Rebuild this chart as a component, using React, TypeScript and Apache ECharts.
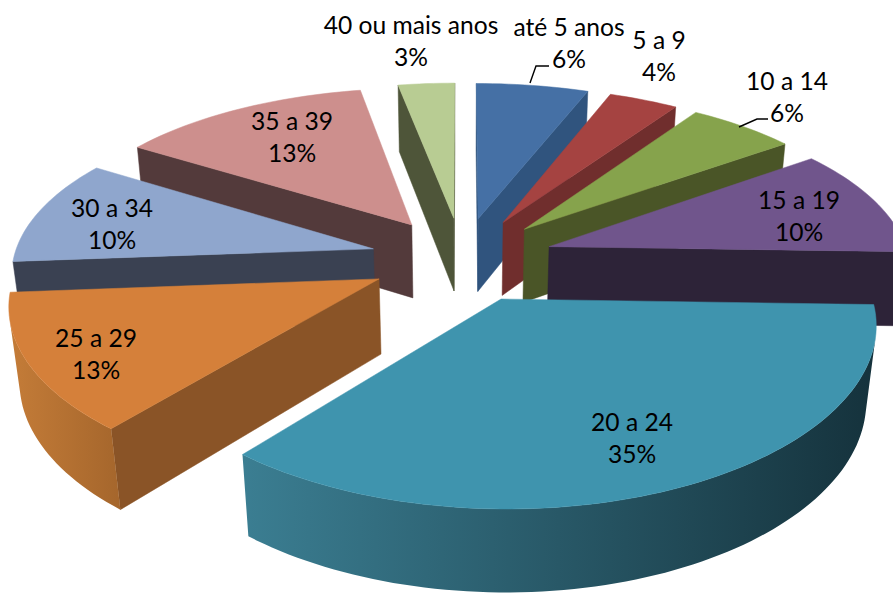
import React, { useEffect, useRef } from "react";
import * as echarts from "echarts";

const categories = ["até 5 anos", "5 a 9", "10 a 14", "15 a 19", "20 a 24", "25 a 29", "30 a 34", "35 a 39", "40 ou mais anos"];
const percentLabels = ["6%", "4%", "6%", "10%", "35%", "13%", "10%", "13%", "3%"];
const values = [5.8, 3.6, 5.6, 10.49, 35.49, 12.8, 10.2, 13.1, 2.92];
const topColors = ["#4570a5", "#a54341", "#86a34c", "#70558c", "#3f94ae", "#d5803a", "#8fa6cd", "#cd8f8d", "#b8cc93"];
const cutColors = ["#30547e", "#702e2d", "#4a5527", "#2d2338", "#1f4a58", "#8a5427", "#3a4152", "#533a3b", "#4e5539"];
const arcLeft = ["#30547e", "#702e2d", "#4a5527", "#2d2338", "#3b7e92", "#c47c38", "#3a4152", "#533a3b", "#4e5539"];
const arcRight = ["#30547e", "#702e2d", "#4a5527", "#2d2338", "#15323c", "#a5662c", "#3a4152", "#533a3b", "#4e5539"];

// Projection of the tilted pie and label placement
const CX = 462, CY = 259, VY_DIST = 1130, DEPTH = 2450, DEPTH_X = 2800, RADIUS = 360, EXPLODE = 92, NADIR = 3500, WALL = 0.0235;
const LABEL_AT: [number, number][] = [[569, 42], [659, 55], [787, 96], [799, 215], [632, 437], [96, 353], [112, 223], [292, 136], [411, 40]];
const LEADERS: Record<number, [number, number][]> = {
  0: [[530, 83], [536, 66], [549, 66]],
  2: [[739, 127], [757, 119], [768, 119]],
};

const total = values.reduce((a, b) => a + b, 0);
const starts: number[] = [];
values.reduce((acc, v, i) => { starts[i] = (acc / total) * Math.PI * 2; return acc + v; }, 0);
const ends = values.map((v, i) => starts[i] + (v / total) * Math.PI * 2);
const mids = values.map((_, i) => (starts[i] + ends[i]) / 2);

type P = [number, number];
function scaleAt(Y: number) { return DEPTH / (DEPTH + Y); }
function top(X: number, Y: number): P {
  return [CX + X * (DEPTH_X / (DEPTH_X + Y)), CY - VY_DIST + VY_DIST * scaleAt(Y)];
}
function bottom(X: number, Y: number): P {
  const p = top(X, Y);
  const t = WALL * scaleAt(Y);
  return [(p[0] + t * CX) / (1 + t), (p[1] + t * NADIR) / (1 + t)];
}
function area(pts: P[]) {
  let a = 0;
  for (let i = 0; i < pts.length; i++) {
    const q = pts[(i + 1) % pts.length];
    a += pts[i][0] * q[1] - q[0] * pts[i][1];
  }
  return a;
}
function poly(points: P[], fill: any, stroke = true) {
  return { type: "polygon", shape: { points }, style: stroke ? { fill, stroke: fill, lineWidth: 0.5 } : { fill } };
}

function renderSlice(_: any, api: any) {
  const i = api.value(0) as number;
  const ex = EXPLODE * Math.sin(mids[i]);
  const ey = EXPLODE * Math.cos(mids[i]);
  const at = (a: number): P => [ex + RADIUS * Math.sin(a), ey + RADIUS * Math.cos(a)];
  const children: any[] = [];
  const steps = Math.max(4, Math.ceil((ends[i] - starts[i]) / (Math.PI / 120)));
  const rim: [number, number][] = [];
  for (let k = 0; k <= steps; k++) rim.push(at(starts[i] + ((ends[i] - starts[i]) * k) / steps));
  const first = rim[0], last = rim[rim.length - 1];

  const startWall: P[] = [top(ex, ey), top(first[0], first[1]), bottom(first[0], first[1]), bottom(ex, ey)];
  const endWall: P[] = [top(ex, ey), top(last[0], last[1]), bottom(last[0], last[1]), bottom(ex, ey)];
  if (area(endWall) > 0) children.push(poly(endWall, cutColors[i]));
  if (area(startWall) < 0) children.push(poly(startWall, cutColors[i]));

  const upper: P[] = [];
  const lower: P[] = [];
  for (let k = 0; k < steps; k++) {
    const a = rim[k], b = rim[k + 1];
    const quad: P[] = [top(a[0], a[1]), top(b[0], b[1]), bottom(b[0], b[1]), bottom(a[0], a[1])];
    if (area(quad) < 0) {
      if (!upper.length) { upper.push(quad[0]); lower.push(quad[3]); }
      upper.push(quad[1]);
      lower.push(quad[2]);
    }
  }
  if (upper.length) {
    children.push(poly([...upper, ...lower.reverse()], {
      type: "linear", x: 0, y: 0, x2: 1, y2: 0,
      colorStops: [{ offset: 0, color: arcLeft[i] }, { offset: 1, color: arcRight[i] }],
    }, false));
  }
  const face: P[] = [top(ex, ey), ...rim.map((r) => top(r[0], r[1]))];
  children.push(poly(face, topColors[i]));
  return { type: "group", children };
}

function renderLabel(_: any, api: any) {
  const i = api.value(0) as number;
  const [x, y] = LABEL_AT[i];
  const children: any[] = [
    {
      type: "text",
      x,
      y,
      style: {
        text: `${categories[i]}\n${percentLabels[i]}`,
        font: '24.6px Lato, "Open Sans", sans-serif',
        fill: "#000000",
        align: "center",
        verticalAlign: "middle",
        lineHeight: 32,
      },
    },
  ];
  if (LEADERS[i]) {
    children.push({
      type: "polyline",
      shape: { points: LEADERS[i] },
      style: { stroke: "#000000", lineWidth: 1.4, fill: "none" },
    });
  }
  return { type: "group", children };
}

export default function App() {
  const ref = useRef<HTMLDivElement>(null);
  useEffect(() => {
    document.body.style.margin = "0";
    const chart = echarts.init(ref.current!, undefined, { renderer: "svg" });
    const order = values.map((_, i) => i).sort((a, b) => Math.cos(mids[b]) - Math.cos(mids[a]));
    chart.setOption({
      animation: false,
      backgroundColor: "#ffffff",
      series: [
        {
          type: "custom",
          coordinateSystem: "none",
          silent: true,
          renderItem: renderSlice,
          data: order.map((i) => ({ name: categories[i], value: [i, values[i]] })),
        },
        {
          type: "custom",
          coordinateSystem: "none",
          silent: true,
          renderItem: renderLabel,
          data: categories.map((name, i) => ({ name, value: [i, values[i]] })),
        },
      ],
    });
    return () => chart.dispose();
  }, []);
  return <div ref={ref} style={{ width: 893, height: 593, overflow: "hidden" }} />;
}
